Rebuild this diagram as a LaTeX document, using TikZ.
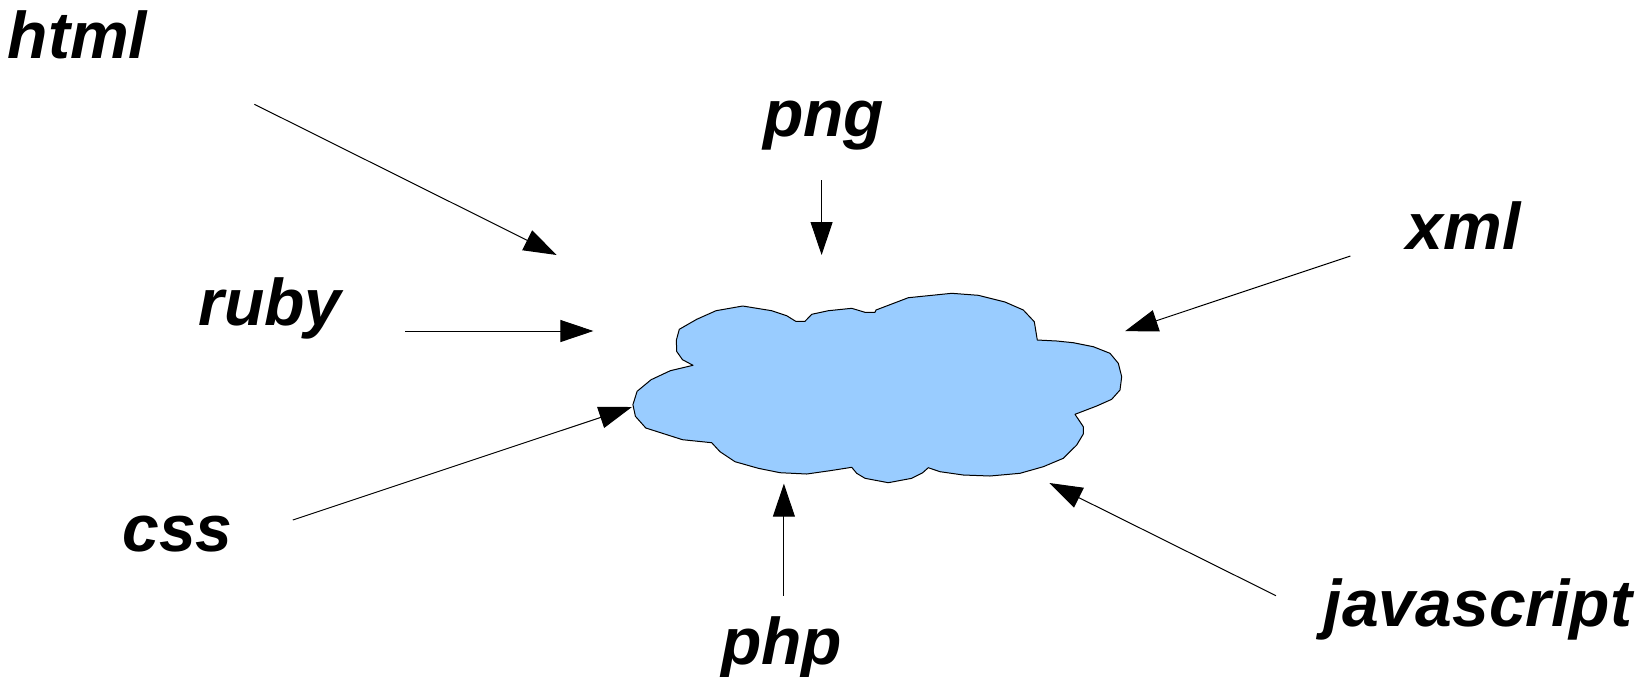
\documentclass[tikz,border=0pt]{standalone}
\usepackage{fontspec}
\setmainfont{Liberation Sans}
\usetikzlibrary{arrows.meta}
\definecolor{cloudblue}{RGB}{153,204,255}
\tikzset{
  lbl/.style={inner sep=0pt, anchor=base, font=\fontsize{33pt}{38pt}\selectfont\bfseries\itshape},
  feed/.style={line width=0.5pt, -{Triangle[length=16.5pt,width=11pt]}},
  cloudshape/.style={fill=cloudblue, draw=black, line width=0.5pt, line join=round}
}
\begin{document}
\begin{tikzpicture}[x=0.5pt,y=-0.5pt]
\useasboundingbox (0,0) rectangle (1644,676);
% cloud
\draw[cloudshape] (676.6,351.3) -- (676.4,340) -- (679.3,329.3) -- (696.7,319.3) -- (716,310.7) -- (742.7,306) -- (771.7,310.7) -- (786.7,315.7) -- (795.7,321.3) -- (805,321.3) -- (811.7,314.3) -- (828.3,310.7) -- (851.7,308.3) -- (865,312.3) -- (875,312.3) -- (876,310) -- (908.3,297.7) -- (951.7,293.3) -- (978.3,295.3) -- (1005,302) -- (1023.3,310) -- (1034.3,321.7) -- (1037.3,340) -- (1056.7,341) -- (1073.3,342.7) -- (1093.3,346.7) -- (1110,353.3) -- (1118.3,363.3) -- (1121.7,376.7) -- (1120,390) -- (1111.7,399.3) -- (1096.7,406) -- (1075,414.3) -- (1083.3,426.7) -- (1083.3,434) -- (1076.7,445) -- (1063.3,458.3) -- (1043.3,466.7) -- (1020,473.3) -- (990,476) -- (963.3,475) -- (940,471.7) -- (928.3,467.7) -- (922.7,472.7) -- (911.7,478.3) -- (888.3,482.7) -- (865,478.3) -- (856.7,473.3) -- (851.7,467.3) -- (830,470.7) -- (806.7,474) -- (780,472.7) -- (758.3,468.3) -- (735,461.7) -- (720,451.7) -- (711.7,442.7) -- (682.5,439.7) -- (645.8,428) -- (635.4,416.3) -- (632.9,404.7) -- (637.1,391.3) -- (651.1,379.7) -- (670.3,370.7) -- (693,365.3) -- (682.5,359.7) -- cycle;
% labels
\node[lbl] (html) at (77.5,58.3) {html};
\node[lbl] (ruby) at (270,325) {ruby};
\node[lbl] (png) at (823.7,136.7) {png};
\node[lbl] (xml) at (1463.8,249.3) {xml};
\node[lbl] (css) at (177.4,551.3) {css};
\node[lbl] (php) at (781.6,664.7) {php};
\node[lbl] (js) at (1478,626.3) {javascript};
% connector ends
\coordinate (htmlS) at (254.4,104.3);
\coordinate (htmlE) at (556.7,255);
\coordinate (rubyS) at (405.3,331);
\coordinate (rubyE) at (593.4,331);
\coordinate (pngS) at (821.6,180);
\coordinate (pngE) at (821.6,255);
\coordinate (xmlS) at (1350.4,256);
\coordinate (xmlE) at (1125,331.2);
\coordinate (cssS) at (292.8,520);
\coordinate (cssE) at (631.9,407);
\coordinate (phpS) at (783.9,595.7);
\coordinate (phpE) at (783.9,483.7);
\coordinate (jsS) at (1276,595.7);
\coordinate (jsE) at (1049.4,483);
\draw[feed] (htmlS) -- (htmlE);
\draw[feed] (rubyS) -- (rubyE);
\draw[feed] (pngS) -- (pngE);
\draw[feed] (xmlS) -- (xmlE);
\draw[feed] (cssS) -- (cssE);
\draw[feed] (phpS) -- (phpE);
\draw[feed] (jsS) -- (jsE);
\end{tikzpicture}
\end{document}
